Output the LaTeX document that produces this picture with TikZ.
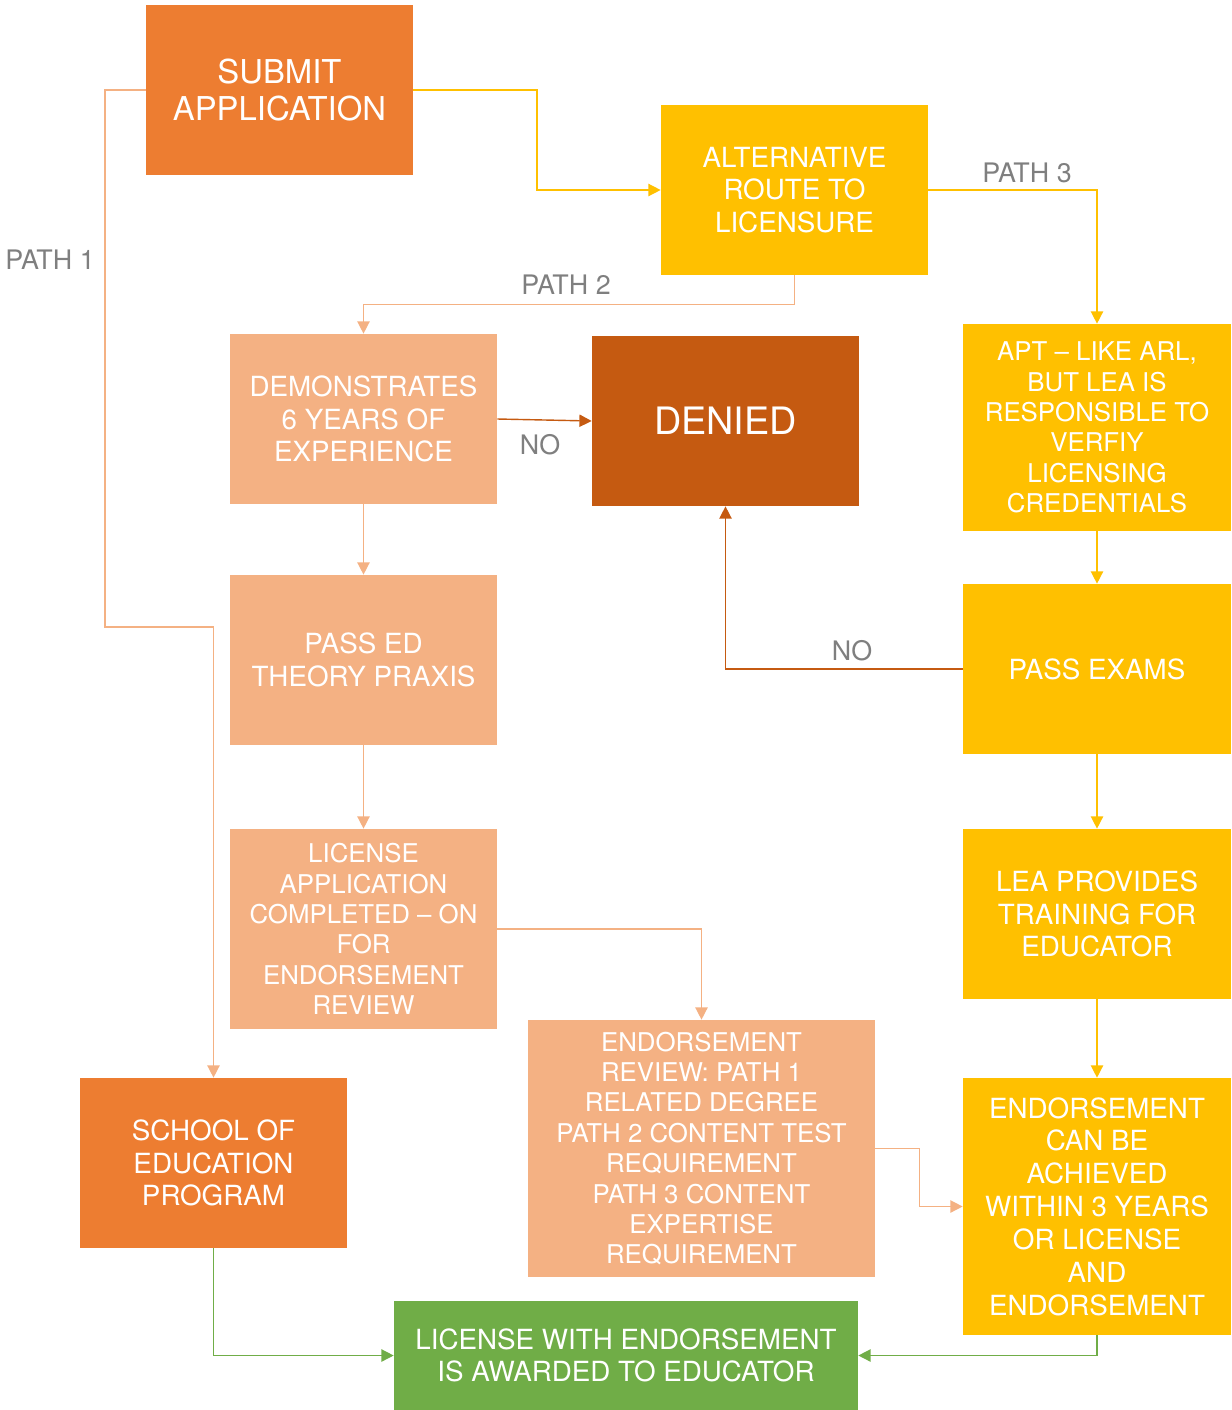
\documentclass[tikz,border=0pt]{standalone}
\usepackage{fontspec}
\setmainfont{TeX Gyre Heros}
\usetikzlibrary{arrows.meta}
\definecolor{orangeA}{HTML}{ED7D31}
\definecolor{goldA}{HTML}{FFC000}
\definecolor{peachA}{HTML}{F4B183}
\definecolor{rustA}{HTML}{C55A11}
\definecolor{leafA}{HTML}{70AD47}
\definecolor{greyA}{HTML}{7F7F7F}
\tikzset{>={Triangle[length=7pt,width=7pt]}}
\tikzset{
	% boxes
	flowbox/.style={rectangle,inner sep=0pt,text=white,align=center,
		minimum width=5.34cm,minimum height=3.4cm,
		font=\fontsize{15.8}{18.4}\selectfont},
	smalltext/.style={font=\fontsize{14.7}{17.3}\selectfont},
	% connectors
	link/.style={line width=0.8pt,->},
	% path labels
	plabel/.style={text=greyA,inner sep=0pt,font=\fontsize{15.3}{17}\selectfont},
}
\begin{document}
\begin{tikzpicture}[x=0.02cm,y=-0.02cm]
\useasboundingbox (0,0) rectangle (1231,1410);
% the boxes
\node[flowbox,fill=orangeA,font=\fontsize{18.7}{21.5}\selectfont] (submit) at (279.5,90) {SUBMIT\\APPLICATION};
\node[flowbox,fill=goldA] (alt) at (794.5,190) {ALTERNATIVE\\ROUTE TO\\LICENSURE};
\node[flowbox,fill=peachA] (demo) at (363.5,419) {DEMONSTRATES\\6 YEARS OF\\EXPERIENCE};
\node[flowbox,fill=rustA,font=\fontsize{21.5}{24}\selectfont] (denied) at (725.5,421) {DENIED};
\node[flowbox,smalltext,fill=goldA,minimum width=5.36cm,minimum height=4.14cm] (apt) at (1097,427.5)
  {APT -- LIKE ARL,\\BUT LEA IS\\RESPONSIBLE TO\\VERFIY\\LICENSING\\CREDENTIALS};
\node[flowbox,fill=peachA] (passed) at (363.5,660) {PASS ED\\THEORY PRAXIS};
\node[flowbox,fill=goldA,minimum width=5.36cm] (exams) at (1097,669) {PASS EXAMS};
\node[flowbox,smalltext,fill=peachA,minimum height=4cm] (lic) at (363.5,929)
  {LICENSE\\APPLICATION\\COMPLETED -- ON\\FOR\\ENDORSEMENT\\REVIEW};
\node[flowbox,fill=goldA,minimum width=5.36cm] (lea) at (1097,914) {LEA PROVIDES\\TRAINING FOR\\EDUCATOR};
\node[flowbox,fill=orangeA] (school) at (213.5,1163) {SCHOOL OF\\EDUCATION\\PROGRAM};
\node[flowbox,smalltext,fill=peachA,minimum width=6.94cm,minimum height=5.14cm] (review) at (701.5,1148.5)
  {ENDORSEMENT\\REVIEW: PATH 1\\RELATED DEGREE\\PATH 2 CONTENT TEST\\REQUIREMENT\\PATH 3 CONTENT\\EXPERTISE\\REQUIREMENT};
\node[flowbox,fill=goldA,minimum width=5.36cm,minimum height=5.14cm,font=\fontsize{15.8}{18.7}\selectfont] (endorse) at (1097,1206.5)
  {ENDORSEMENT\\CAN BE\\ACHIEVED\\WITHIN 3 YEARS\\OR LICENSE\\AND\\ENDORSEMENT};
\node[flowbox,fill=leafA,minimum width=9.28cm,minimum height=2.18cm] (award) at (626,1355.5)
  {LICENSE WITH ENDORSEMENT\\IS AWARDED TO EDUCATOR};
% the connectors
\draw[link,peachA] (submit.west) -| (105,627) -| (school.north);
\draw[link,goldA] (submit.east) -- (537,90) |- (alt.west);
\draw[link,peachA] (alt.south) -- ++(0,29) -| (demo.north);
\draw[link,goldA] (alt.east) -| (apt.north);
\draw[link,rustA] (demo.east) -- (denied.west);
\draw[link,peachA] (demo) -- (passed);
\draw[link,peachA] (passed) -- (lic);
\draw[link,peachA] (lic.east) -| (review.north);
\draw[link,peachA] (review.east) -- ++(44,0) |- (endorse.west);
\draw[link,goldA] (apt) -- (exams);
\draw[link,goldA] (exams) -- (lea);
\draw[link,goldA] (lea) -- (endorse);
\draw[link,rustA] (exams.west) -| (denied.south);
\draw[link,leafA] (school.south) |- (award.west);
\draw[link,leafA] (endorse.south) |- (award.east);
% the labels
\node[plabel] (pathone) at (50,260) {PATH 1};
\node[plabel] (pathtwo) at (566,285) {PATH 2};
\node[plabel] (paththree) at (1027,173) {PATH 3};
\node[plabel] (noone) at (540,445) {NO};
\node[plabel] (notwo) at (852,651) {NO};
\end{tikzpicture}
\end{document}
